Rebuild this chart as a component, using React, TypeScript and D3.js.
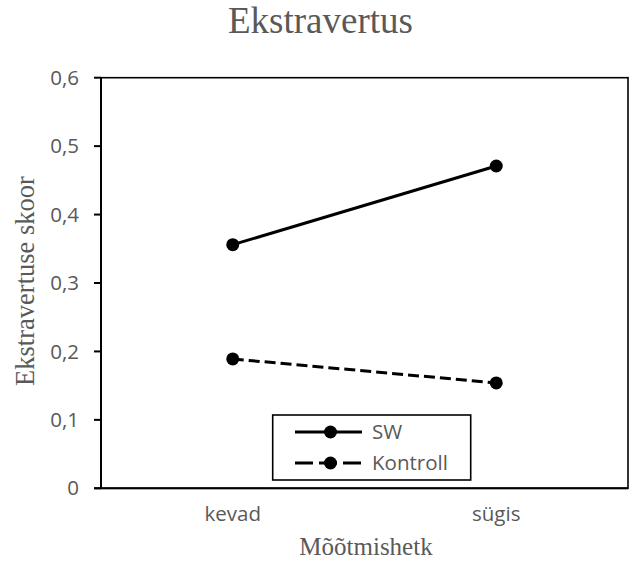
import React from "react";
import * as d3 from "d3";

const categories = ["kevad", "sügis"];
const swValues = [0.356, 0.471];
const kontrollValues = [0.189, 0.154];
const yTickValues = [0, 0.1, 0.2, 0.3, 0.4, 0.5, 0.6];
const yTickLabels = ["0", "0,1", "0,2", "0,3", "0,4", "0,5", "0,6"];
const seriesNames = ["SW", "Kontroll"];

const W = 636;
const H = 568;
const left = 101;
const right = 628;
const top = 77.7;
const bottom = 488.3;
const gray = "#595959";
const sans = "'Open Sans', sans-serif";
const serif = "'Liberation Serif', 'Times New Roman', serif";

export default function App() {
  const x = d3.scaleBand<string>().domain(categories).range([left, right]);
  const y = d3.scaleLinear().domain([0, 0.6]).range([bottom, top]);
  const cx = (c: string) => (x(c) as number) + x.bandwidth() / 2;
  const line = d3
    .line<number>()
    .x((_, i) => cx(categories[i]))
    .y((d) => y(d));

  const series = [
    { name: seriesNames[0], values: swValues, dash: undefined as string | undefined, legendDash: undefined as string | undefined },
    { name: seriesNames[1], values: kontrollValues, dash: "11,5", legendDash: "18,6" },
  ];

  const lgX = 272.7;
  const lgY = 415;
  const lgW = 198;
  const lgH = 65;

  return (
    <svg
      width={W}
      height={H}
      style={{ position: "absolute", left: 0, top: 0, background: "#fff" }}
    >
      <rect x={0} y={0} width={W} height={H} fill="#fff" />
      <text x={320.5} y={33} textAnchor="middle" fontFamily={serif} fontSize={37} fill={gray}>
        Ekstravertus
      </text>

      {/* plot frame */}
      <rect x={left} y={top} width={right - left} height={bottom - top} fill="none" stroke="#000" strokeWidth={1.6} />
      <line x1={left} x2={left} y1={top} y2={bottom} stroke="#000" strokeWidth={2} />
      <line x1={left - 7} x2={right} y1={bottom} y2={bottom} stroke="#000" strokeWidth={2} />

      {yTickValues.map((v, i) => (
        <g key={i}>
          <line x1={left - 7} x2={left} y1={y(v)} y2={y(v)} stroke="#000" strokeWidth={2} />
          <text
            x={79}
            y={y(v)}
            dy="0.35em"
            textAnchor="end"
            fontFamily={sans}
            fontSize={20.5}
            fill={gray}
          >
            {yTickLabels[i]}
          </text>
        </g>
      ))}

      {categories.map((c) => (
        <text key={c} x={cx(c)} y={521} textAnchor="middle" fontFamily={sans} fontSize={20.5} fill={gray}>
          {c}
        </text>
      ))}

      <text
        transform={`translate(34, 281) rotate(-90)`}
        textAnchor="middle"
        fontFamily={serif}
        fontSize={26.5}
        fill={gray}
      >
        Ekstravertuse skoor
      </text>
      <text x={366} y={555} textAnchor="middle" fontFamily={serif} fontSize={25} fill={gray}>
        Mõõtmishetk
      </text>

      {series.map((s) => (
        <g key={s.name}>
          <path d={line(s.values) || ""} fill="none" stroke="#000" strokeWidth={3} strokeDasharray={s.dash} />
          {s.values.map((v, i) => (
            <circle key={i} cx={cx(categories[i])} cy={y(v)} r={6.5} fill="#000" />
          ))}
        </g>
      ))}

      {/* legend */}
      <rect x={lgX} y={lgY} width={lgW} height={lgH} fill="#fff" stroke="#000" strokeWidth={1.6} />
      {series.map((s, i) => {
        const ly = lgY + 17 + i * 31;
        return (
          <g key={s.name}>
            <line x1={295} x2={362} y1={ly} y2={ly} stroke="#000" strokeWidth={3} strokeDasharray={s.legendDash} />
            <circle cx={330.5} cy={ly} r={6.5} fill="#000" />
            <text x={372} y={ly} dy="0.35em" fontFamily={sans} fontSize={20.5} fill={gray}>
              {s.name}
            </text>
          </g>
        );
      })}
    </svg>
  );
}
